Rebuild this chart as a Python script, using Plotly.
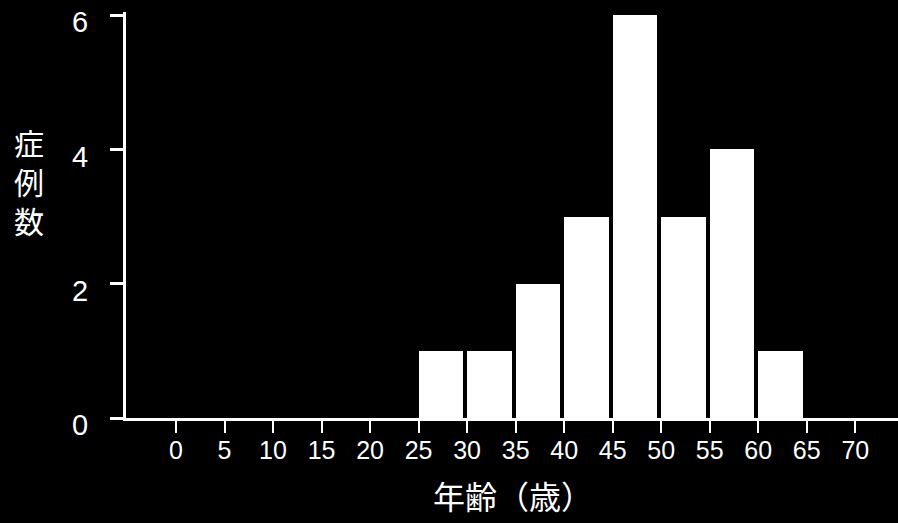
import plotly.graph_objects as go

# Age distribution of cases (5-year bins, left edge of each bin)
bin_left = [25, 30, 35, 40, 45, 50, 55, 60]
case_counts = [1, 1, 2, 3, 6, 3, 4, 1]

x_ticks = list(range(0, 75, 5))
y_ticks = [0, 2, 4, 6]
x_title = "年齢（歳）"
y_title = "症<br>例<br>数"

W, H = 898, 523
L, R, T, B = 126, 0, 12, 105
plot_w = W - L - R
plot_h = H - T - B

def px_to_paper_x(px):
    return (px - L) / plot_w

def px_to_paper_y(py):
    return (H - B - py) / plot_h

fig = go.Figure()
fig.add_trace(go.Bar(
    x=bin_left,
    y=case_counts,
    width=4.6,
    offset=0,
    marker=dict(color="white", line=dict(width=0)),
    hoverinfo="x+y",
))

num_font = dict(family="Liberation Sans, Arial, sans-serif", color="white")
cjk_font = dict(family="Noto Sans CJK JP, Noto Sans CJK SC, sans-serif", color="white")

annotations = [
    dict(text=x_title, xref="paper", yref="paper",
         x=px_to_paper_x(513), y=px_to_paper_y(495),
         xanchor="center", yanchor="middle", showarrow=False,
         font=dict(size=32, **cjk_font)),
    dict(text=y_title, xref="paper", yref="paper",
         x=px_to_paper_x(29), y=px_to_paper_y(181),
         xanchor="center", yanchor="middle", showarrow=False,
         font=dict(size=30, **cjk_font)),
]

fig.update_layout(
    width=W, height=H,
    margin=dict(l=L, r=R, t=T, b=B, pad=0),
    paper_bgcolor="black",
    plot_bgcolor="black",
    showlegend=False,
    bargap=0,
    annotations=annotations,
    xaxis=dict(
        range=[-5.15, 74.4],
        tickmode="array", tickvals=x_ticks,
        ticktext=[str(v) for v in x_ticks],
        ticks="outside", ticklen=12, tickwidth=2, tickcolor="white",
        showline=True, linecolor="white", linewidth=3,
        showgrid=False, zeroline=False,
        tickfont=dict(size=25, **num_font),
        ticklabelstandoff=-4,
    ),
    yaxis=dict(
        range=[0, 6.045],
        tickmode="array", tickvals=y_ticks,
        ticks="outside", ticklen=13, tickwidth=3, tickcolor="white",
        showline=True, linecolor="white", linewidth=3,
        showgrid=False, zeroline=False,
        tickfont=dict(size=29, **num_font),
        ticklabelstandoff=16,
        ticklabelshift=7,
    ),
)

fig.write_html("out.html")
